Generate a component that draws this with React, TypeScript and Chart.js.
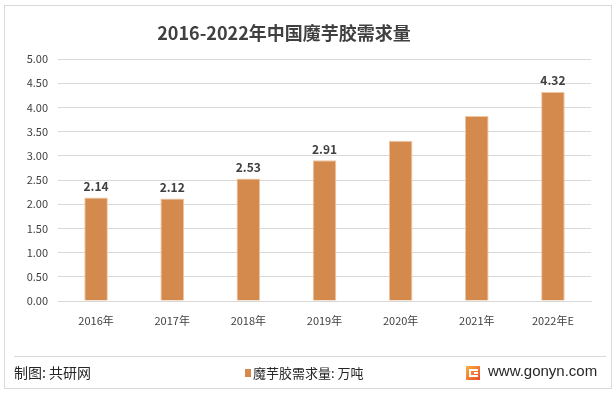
import React, { useEffect, useRef } from "react";
import { Chart, registerables } from "chart.js";

Chart.register(...registerables);

const categories = ["2016年", "2017年", "2018年", "2019年", "2020年", "2021年", "2022年E"];
const demand = [2.14, 2.12, 2.53, 2.91, 3.31, 3.82, 4.32];
const shownLabels: (string | null)[] = ["2.14", "2.12", "2.53", "2.91", null, null, "4.32"];
const seriesName = "魔芋胶需求量: 万吨";
const titleText = "2016-2022年中国魔芋胶需求量";
const sourceText = "制图: 共研网";
const siteText = "www.gonyn.com";

const FONT = "'Noto Sans CJK SC', 'Microsoft YaHei', sans-serif";
const BAR_COLOR = "#D48A4C";

const decorPlugin = {
  id: "decor",
  beforeDraw(chart: any) {
    const ctx = chart.ctx;
    ctx.save();
    ctx.fillStyle = "#ffffff";
    ctx.fillRect(0, 0, chart.width, chart.height);
    ctx.strokeStyle = "#d9d9d9";
    ctx.lineWidth = 1;
    ctx.strokeRect(4.5, 5.5, 607, 383);
    ctx.beginPath();
    ctx.moveTo(14, 356.5);
    ctx.lineTo(606, 356.5);
    ctx.stroke();
    ctx.restore();
  },
  afterDraw(chart: any) {
    const ctx = chart.ctx;
    ctx.save();
    // title
    ctx.fillStyle = "#404040";
    ctx.font = `bold 18px ${FONT}`;
    ctx.textAlign = "center";
    ctx.textBaseline = "middle";
    ctx.fillText(titleText, 284, 33);

    // data labels
    const meta = chart.getDatasetMeta(0);
    ctx.font = `bold 12px ${FONT}`;
    ctx.fillStyle = "#404040";
    ctx.textBaseline = "bottom";
    meta.data.forEach((bar: any, i: number) => {
      const t = shownLabels[i];
      if (t) ctx.fillText(t, bar.x, bar.y - 5);
    });

    // footer
    ctx.textBaseline = "middle";
    ctx.textAlign = "left";
    ctx.font = `14px ${FONT}`;
    ctx.fillStyle = "#262626";
    ctx.fillText(sourceText, 14, 373);

    // legend
    ctx.fillStyle = BAR_COLOR;
    ctx.fillRect(245, 369, 6, 8);
    ctx.fillStyle = "#262626";
    ctx.font = `13px ${FONT}`;
    ctx.fillText(seriesName, 253, 373);

    // logo
    const lx = 466, ly = 366;
    const g = ctx.createLinearGradient(lx, ly, lx + 14, ly + 14);
    g.addColorStop(0, "#F8B13E");
    g.addColorStop(1, "#EC4A2C");
    ctx.fillStyle = g;
    ctx.fillRect(lx, ly, 14, 14);
    ctx.fillStyle = "#ffffff";
    ctx.fillRect(lx + 3, ly + 3, 9, 2);
    ctx.fillRect(lx + 3, ly + 3, 2, 8);
    ctx.fillRect(lx + 3, ly + 9, 9, 2);
    ctx.fillRect(lx + 8, ly + 6, 4, 2);

    ctx.fillStyle = "#262626";
    ctx.font = `15px 'Liberation Sans', Arial, sans-serif`;
    ctx.fillText(siteText, 488, 372);
    ctx.restore();
  },
};

export default function App() {
  const ref = useRef<HTMLCanvasElement | null>(null);
  useEffect(() => {
    document.body.style.margin = "0";
    const chart = new Chart(ref.current as HTMLCanvasElement, {
      type: "bar",
      data: {
        labels: categories,
        datasets: [
          {
            label: seriesName,
            data: demand,
            backgroundColor: BAR_COLOR,
            borderColor: "#EDC6A2",
            borderWidth: 1,
            categoryPercentage: 1,
            barPercentage: 0.31,
          },
        ],
      },
      options: {
        responsive: false,
        animation: false,
        devicePixelRatio: 1,
        layout: { padding: { left: 8, right: 25, top: 59, bottom: 0 } },
        plugins: { legend: { display: false }, tooltip: { enabled: false } },
        scales: {
          x: {
            grid: { display: false, drawTicks: false },
            border: { display: true, color: "#d9d9d9" },
            ticks: { color: "#404040", font: { family: FONT, size: 11 }, padding: 13, maxRotation: 0 },
            afterFit: (s: any) => { s.height = 93; },
          },
          y: {
            min: 0,
            max: 5,
            grid: { color: "#d9d9d9", drawTicks: false },
            border: { display: false },
            ticks: {
              stepSize: 0.5,
              color: "#404040",
              font: { family: FONT, size: 11 },
              padding: 10,
              callback: (v: any) => Number(v).toFixed(2),
            },
            afterFit: (s: any) => { s.width = 50; },
          },
        },
      },
      plugins: [decorPlugin],
    });
    return () => chart.destroy();
  }, []);
  return (
    <div style={{ position: "absolute", left: 0, top: 0, width: 616, height: 394 }}>
      <canvas ref={ref} width={616} height={394} />
    </div>
  );
}
